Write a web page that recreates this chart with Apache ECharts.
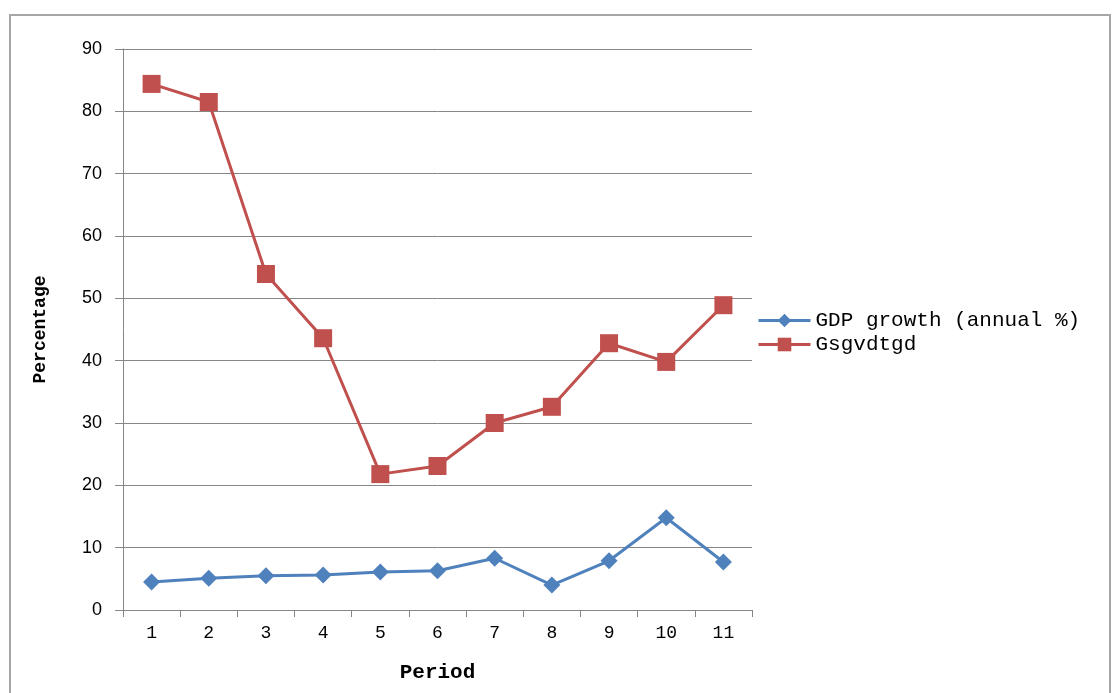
<!DOCTYPE html>
<html>
<head>
<meta charset="utf-8">
<script src="https://cdn.jsdelivr.net/npm/echarts@6/dist/echarts.min.js"></script>
<style>
html,body{margin:0;padding:0;background:#fff;overflow:hidden;}
#chart{width:1112px;height:693px;}
</style>
</head>
<body>
<div id="chart"></div>
<script>
const periods = ['1','2','3','4','5','6','7','8','9','10','11'];
const gdpGrowth = [4.5, 5.1, 5.5, 5.6, 6.1, 6.3, 8.3, 4.0, 7.9, 14.8, 7.7];
const gsgvdtgd = [84.4, 81.5, 53.9, 43.6, 21.8, 23.1, 30.0, 32.6, 42.8, 39.8, 48.9];
const seriesNames = ['GDP growth (annual %)', 'Gsgvdtgd'];

const chart = echarts.init(document.getElementById('chart'), null, {renderer: 'canvas', width: 1112, height: 693});
const axisGray = '#868686';
chart.setOption({
  animation: false,
  backgroundColor: '#ffffff',
  graphic: [{
    type: 'rect',
    shape: {x: 10, y: 15, width: 1100, height: 700},
    style: {fill: 'none', stroke: '#a6a6a6', lineWidth: 2},
    silent: true, z: -10
  }],
  grid: {left: 123, top: 49, width: 629, height: 561, containLabel: false, outerBoundsMode: 'none'},
  legend: {
    orient: 'vertical',
    left: 757,
    top: 310,
    padding: 0,
    itemWidth: 52,
    itemHeight: 17,
    itemGap: 3,
    data: seriesNames,
    lineStyle: {width: 3},
    textStyle: {fontFamily: 'Liberation Mono', fontSize: 21, color: '#000'}
  },
  xAxis: {
    type: 'category',
    data: periods,
    boundaryGap: true,
    name: 'Period',
    nameLocation: 'middle',
    nameGap: 52,
    nameTextStyle: {fontFamily: 'Liberation Mono', fontWeight: 'bold', fontSize: 21, color: '#000'},
    axisLine: {lineStyle: {color: axisGray, width: 1}},
    axisTick: {show: true, length: 7, lineStyle: {color: axisGray}},
    axisLabel: {fontFamily: 'Liberation Mono', fontSize: 18, color: '#000', margin: 14},
    splitLine: {show: false}
  },
  yAxis: {
    type: 'value',
    min: 0, max: 90, interval: 10,
    name: 'Percentage',
    nameLocation: 'middle',
    nameGap: 74,
    nameRotate: 90,
    nameTextStyle: {fontFamily: 'Liberation Mono', fontWeight: 'bold', fontSize: 18, color: '#000'},
    axisLine: {show: true, lineStyle: {color: axisGray, width: 1}},
    axisTick: {show: true, length: 8, lineStyle: {color: axisGray}},
    axisLabel: {fontFamily: 'Liberation Sans', fontSize: 18, color: '#000', margin: 21},
    splitLine: {show: true, lineStyle: {color: axisGray, width: 1}}
  },
  series: [
    {
      name: seriesNames[0],
      type: 'line',
      data: gdpGrowth,
      symbol: 'diamond',
      symbolSize: 17,
      lineStyle: {color: '#4F81BD', width: 3},
      itemStyle: {color: '#4F81BD'}
    },
    {
      name: seriesNames[1],
      type: 'line',
      data: gsgvdtgd,
      symbol: 'rect',
      symbolSize: 18,
      lineStyle: {color: '#C0504D', width: 3},
      itemStyle: {color: '#C0504D'}
    }
  ]
});
</script>
</body>
</html>
